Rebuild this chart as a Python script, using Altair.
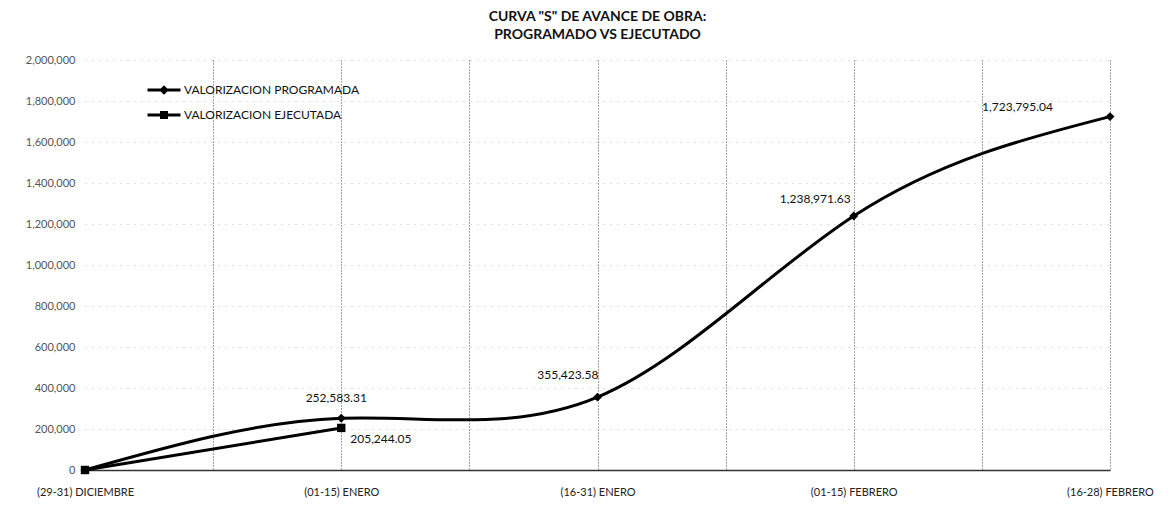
import altair as alt
import pandas as pd

periods = ["(29-31) DICIEMBRE", "(01-15) ENERO", "(16-31) ENERO", "(01-15) FEBRERO", "(16-28) FEBRERO"]
programada = [0, 252583.31, 355423.58, 1238971.63, 1723795.04]
ejecutada = [0, 205244.05]
series_names = ["VALORIZACION PROGRAMADA", "VALORIZACION EJECUTADA"]
y_ticks = list(range(0, 2000001, 200000))
x_grid = [i / 2 for i in range(0, 2 * len(periods) - 1)]

rows = []
for i, v in enumerate(programada):
    rows.append({"periodo": periods[i], "idx": i, "valor": v, "serie": series_names[0]})
for i, v in enumerate(ejecutada):
    rows.append({"periodo": periods[i], "idx": i, "valor": v, "serie": series_names[1]})
df = pd.DataFrame(rows)

FONT = "Lato"
label_array = "[" + ",".join("'%s'" % p for p in periods) + "]"

x_enc = alt.X(
    "idx:Q",
    title=None,
    scale=alt.Scale(domain=[0, len(periods) - 1], nice=False, zero=False),
    axis=alt.Axis(
        values=x_grid,
        labelExpr=f"datum.value % 1 === 0 ? {label_array}[datum.value] : ''",
        labelFlush=False,
        labelOverlap=False,
        labelFont=FONT,
        labelFontSize=11,
        labelColor="#222",
        labelPadding=16,
        ticks=False,
        domainColor="#333",
        domainWidth=1.5,
        grid=True,
        gridColor="#444",
        gridDash=[1, 2],
        gridWidth=1,
        gridOpacity={"condition": {"test": "datum.value === 0", "value": 0}, "value": 1},
    ),
)
y_enc = alt.Y(
    "valor:Q",
    title=None,
    scale=alt.Scale(domain=[0, 2000000], nice=False),
    axis=alt.Axis(
        values=y_ticks,
        format=",.0f",
        labelFont=FONT,
        labelFontSize=11,
        labelColor="#555",
        labelPadding=10,
        ticks=False,
        domain=False,
        grid=True,
        gridColor="#bbb",
        gridDash=[1, 6],
        gridWidth=1,
        minExtent=72,
        maxExtent=72,
    ),
)

base = alt.Chart(df)
prog = base.transform_filter(alt.datum.serie == series_names[0])
ejec = base.transform_filter(alt.datum.serie == series_names[1])

line_prog = prog.mark_line(color="black", strokeWidth=3, interpolate="natural").encode(x=x_enc, y=y_enc)
line_ejec = ejec.mark_line(color="black", strokeWidth=3).encode(x=x_enc, y=y_enc)
pts_prog = prog.mark_point(shape="diamond", filled=True, color="black", size=80, opacity=1).encode(x=x_enc, y=y_enc)
pts_ejec = ejec.mark_point(shape="square", filled=True, color="black", size=70, opacity=1).encode(x=x_enc, y=y_enc)

path_diamond = "M-3.3,-0.3L3.3,-0.3L3.3,0.3L-3.3,0.3Z M0,-0.95L0.95,0L0,0.95L-0.95,0Z"
path_square = "M-3.3,-0.3L3.3,-0.3L3.3,0.3L-3.3,0.3Z M-0.8,-0.8L0.8,-0.8L0.8,0.8L-0.8,0.8Z"

legend_layer = base.mark_point(filled=True, color="black", opacity=0).encode(
    x=x_enc,
    y=y_enc,
    shape=alt.Shape(
        "serie:N",
        scale=alt.Scale(domain=series_names, range=[path_diamond, path_square]),
        legend=alt.Legend(
            title=None,
            orient="none",
            legendX=73,
            legendY=24,
            symbolSize=100,
            symbolFillColor="black",
            symbolStrokeColor="black",
            symbolStrokeWidth=0,
            symbolOpacity=1,
            labelFont=FONT,
            labelFontSize=12,
            labelColor="#111",
            labelOffset=14,
            labelLimit=0,
            rowPadding=13,
            padding=0,
        ),
    ),
)


def value_label(src, idx, align, dx, dy):
    return src.transform_filter(alt.datum.idx == idx).mark_text(
        align=align, baseline="middle", dx=dx, dy=dy, font=FONT, fontSize=12, color="#111"
    ).encode(x=x_enc, y=y_enc, text=alt.Text("valor:Q", format=",.2f"))


labels = [
    value_label(prog, 1, "center", -5, -20),
    value_label(ejec, 1, "left", 9, 11),
    value_label(prog, 2, "right", 1, -22),
    value_label(prog, 3, "right", -3, -17),
    value_label(prog, 4, "right", -57, -10),
]

chart = alt.layer(
    legend_layer, line_ejec, line_prog, pts_ejec, pts_prog, *labels
).properties(
    width=1025,
    height=410,
    padding={"left": 5, "top": 2, "right": 5, "bottom": 5},
    title=alt.TitleParams(
        text=['CURVA "S" DE AVANCE DE OBRA:', "PROGRAMADO VS EJECUTADO"],
        font=FONT,
        fontSize=14,
        fontWeight="bold",
        color="#111",
        anchor="middle",
        lineHeight=18,
        offset=12,
    ),
).configure_view(stroke=None)

chart.save("out.html", embed_options={"renderer": "svg", "actions": False})
